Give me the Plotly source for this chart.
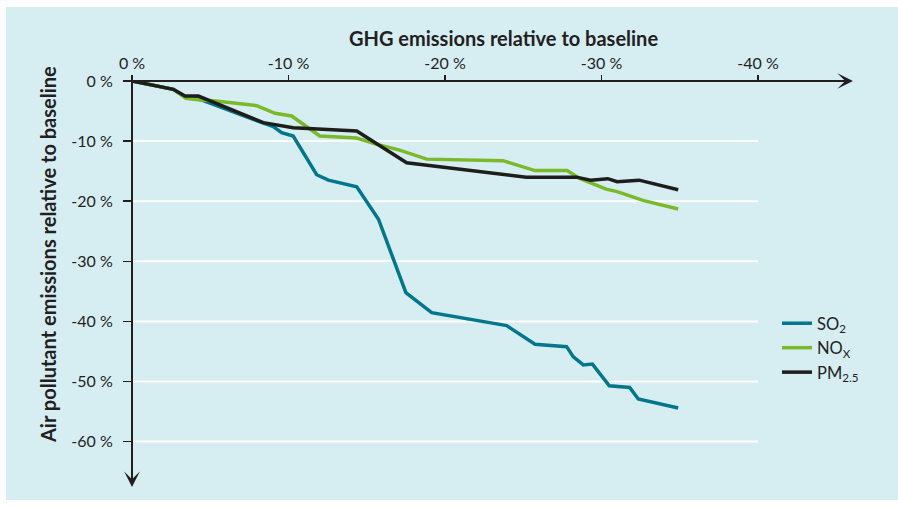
import plotly.graph_objects as go

# ---- data ----
ghg_ticks = [0, -10, -20, -30, -40]
ghg_tick_text = ["0 %", "-10 %", "-20 %", "-30 %", "-40 %"]
air_ticks = [0, -10, -20, -30, -40, -50, -60]
air_tick_text = ["0 %", "-10 %", "-20 %", "-30 %", "-40 %", "-50 %", "-60 %"]

so2_x = [0, -2.64, -3.4, -4.3, -8.4, -9.03, -9.56, -10.3, -11.8, -12.55, -14.36, -15.75,
         -17.5, -19.15, -23.94, -25.75, -27.77, -28.2, -28.84, -29.42, -30.5, -31.8, -32.35, -34.9]
so2_y = [0, -1.39, -2.7, -3.0, -7.0, -7.6, -8.6, -9.15, -15.6, -16.5, -17.6, -23.0,
         -35.2, -38.55, -40.7, -43.8, -44.2, -45.9, -47.25, -47.1, -50.7, -51.0, -52.9, -54.4]

nox_x = [0, -2.64, -3.45, -4.35, -5.2, -7.97, -9.14, -10.2, -12.0, -14.36, -15.6, -17.1,
         -18.83, -23.7, -25.75, -27.8, -28.6, -30.3, -31.0, -32.7, -34.9]
nox_y = [0, -1.39, -2.88, -3.16, -3.27, -4.1, -5.38, -5.82, -9.15, -9.48, -10.5, -11.5,
         -13.0, -13.26, -14.9, -14.9, -16.2, -18.0, -18.4, -19.9, -21.3]

pm_x = [0, -2.64, -3.39, -4.24, -8.39, -10.3, -14.36, -17.55, -25.2, -28.4, -29.3, -30.4,
        -31.0, -32.4, -34.9]
pm_y = [0, -1.39, -2.5, -2.5, -6.93, -7.77, -8.32, -13.6, -16.0, -16.0, -16.5, -16.25,
        -16.75, -16.5, -18.1]

series_names = ["SO<sub>2</sub>", "NO<sub>X</sub>", "PM<sub>2.5</sub>"]
series_colors = ["#00778b", "#7ab929", "#1d1d1b"]

# ---- layout constants (reference pixel frame; body margin removed by post_script) ----
W, H = 898, 510
ML, MR, MT = 132, 38, 81
MB = H - 500
PW, PH = W - ML - MR, H - MT - MB
PX_PER_X = 15.65   # px per 1 % on x
PX_PER_Y = 6.01    # px per 1 % on y
BG = "#d6edf2"
INK = "#231f20"
FONT = "Lato"

def px_x(p):
    return (p - ML) / PW

def px_y(p):
    return 1 - (p - MT) / PH

fig = go.Figure()
for xs, ys, nm, col in zip([so2_x, nox_x, pm_x], [so2_y, nox_y, pm_y], series_names, series_colors):
    fig.add_trace(go.Scatter(x=xs, y=ys, mode="lines", name=nm,
                             line=dict(color=col, width=3.5), hoverinfo="skip"))

shapes = [dict(type="rect", xref="paper", yref="paper", layer="below",
               x0=px_x(6), x1=px_x(910), y0=px_y(500), y1=px_y(7),
               fillcolor=BG, line=dict(width=0))]
for v in air_ticks[1:]:
    shapes.append(dict(type="line", xref="x", yref="y", layer="below",
                       x0=0, x1=-40, y0=v, y1=v, line=dict(color="white", width=2)))

annotations = [
    # x axis arrow
    dict(xref="paper", yref="paper", x=px_x(853), y=1, ax=-(853 - 125), ay=0,
         axref="pixel", ayref="pixel", showarrow=True, arrowhead=3, arrowsize=1.3,
         arrowwidth=2, arrowcolor=INK, text=""),
    # y axis arrow
    dict(xref="paper", yref="paper", x=0, y=px_y(487), ax=0, ay=-(487 - 75),
         axref="pixel", ayref="pixel", showarrow=True, arrowhead=3, arrowsize=1.3,
         arrowwidth=2, arrowcolor=INK, text=""),
    dict(xref="paper", yref="paper", x=px_x(503), y=px_y(38), showarrow=False,
         text="<b>GHG emissions relative to baseline</b>",
         font=dict(family=FONT, size=20, color=INK), xanchor="center", yanchor="middle"),
    dict(xref="paper", yref="paper", x=px_x(48), y=px_y(255), showarrow=False,
         text="<b>Air pollutant emissions relative to baseline</b>", textangle=-90,
         font=dict(family=FONT, size=20, color=INK), xanchor="center", yanchor="middle"),
]

fig.update_layout(
    width=W, height=H,
    margin=dict(l=ML, r=MR, t=MT, b=MB, pad=0),
    paper_bgcolor="white", plot_bgcolor="rgba(0,0,0,0)",
    font=dict(family=FONT, color=INK, size=16),
    shapes=shapes, annotations=annotations,
    showlegend=True,
    legend=dict(x=px_x(777), y=px_y(306), xanchor="left", yanchor="top",
                bgcolor="rgba(0,0,0,0)", font=dict(family=FONT, size=16.5, color=INK),
                tracegroupgap=0),
    xaxis=dict(range=[0, -PW / PX_PER_X], side="top", showgrid=False, zeroline=False,
               showline=False, ticks="outside", ticklen=5, tickwidth=1.5, tickcolor=INK,
               tickvals=ghg_ticks, ticktext=ghg_tick_text,
               tickfont=dict(family=FONT, size=16, color=INK), fixedrange=True),
    yaxis=dict(range=[-PH / PX_PER_Y, 0], showgrid=False, zeroline=False, showline=False,
               ticks="outside", ticklen=8, tickwidth=1.5, tickcolor=INK,
               tickvals=air_ticks, ticktext=air_tick_text, ticklabelstandoff=7,
               tickfont=dict(family=FONT, size=16, color=INK), fixedrange=True),
)

fig.write_html("out.html",
               config={"displayModeBar": False, "staticPlot": True},
               post_script="document.body.style.margin='0';document.body.style.overflow='hidden';")
